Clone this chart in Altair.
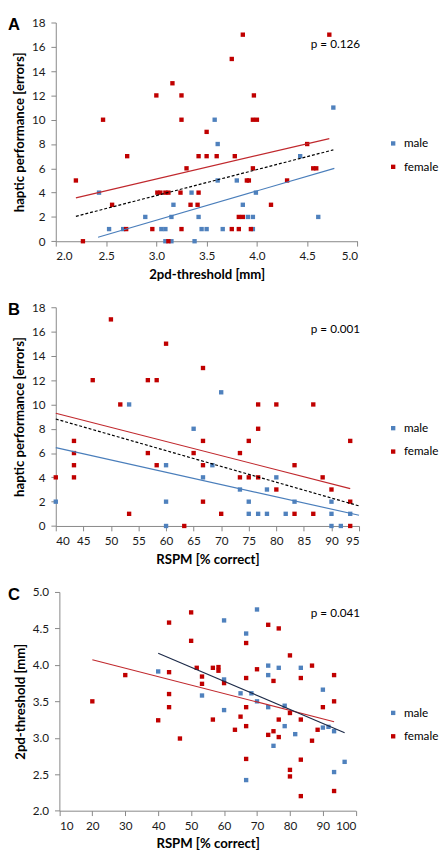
import altair as alt
import pandas as pd

# ---------------- Panel A : haptic performance vs 2pd-threshold ----------------
a_male_x = [2.43, 2.53, 2.67, 2.89, 3.05, 3.09, 3.09, 3.15, 3.15, 3.17, 3.35, 3.38, 3.42, 3.45,
            3.50, 3.58, 3.61, 3.61, 3.66, 3.80, 3.86, 3.91, 3.96, 3.96, 3.99, 4.43, 4.61, 4.76]
a_male_y = [4, 1, 1, 2, 1, 1, 0, 0, 2, 3, 4, 0, 2, 1,
            1, 10, 8, 5, 1, 5, 3, 2, 2, 1, 4, 7, 2, 11]
a_female_x = [2.20, 2.27, 2.47, 2.56, 2.70, 2.71, 2.96, 3.00, 3.01, 3.04, 3.09, 3.12, 3.12, 3.16,
              3.24, 3.25, 3.25, 3.25, 3.30, 3.34, 3.41, 3.42, 3.42, 3.50, 3.50, 3.60, 3.75, 3.75,
              3.78, 3.82, 3.82, 3.86, 3.86, 3.90, 3.92, 3.94, 3.96, 3.96, 3.97, 4.00, 4.14, 4.30,
              4.50, 4.56, 4.59, 4.72]
a_female_y = [5, 0, 10, 3, 1, 7, 1, 12, 4, 4, 4, 4, 0, 13,
              4, 12, 10, 1, 6, 3, 3, 4, 7, 7, 9, 7, 1, 15,
              7, 2, 1, 2, 17, 5, 5, 1, 6, 10, 12, 10, 3, 5,
              8, 6, 6, 17]
a_fit_female_x, a_fit_female_y = [2.20, 4.72], [3.57, 8.45]
a_fit_all_x, a_fit_all_y = [2.20, 4.76], [2.05, 7.52]
a_fit_male_x, a_fit_male_y = [2.42, 4.77], [0.33, 6.00]

# ---------------- Panel B : haptic performance vs RSPM ----------------
b_male_x = [40, 53.3, 60, 60, 60, 65, 66.7, 68.4, 70, 73.4, 75, 75, 76.7, 78.3, 78.3, 80, 81.7,
            83.3, 90, 90, 90, 91.7, 93.4]
b_male_y = [2, 10, 5, 2, 0, 8, 4, 5, 11, 3, 2, 1, 1, 3, 1, 4, 1,
            2, 2, 1, 0, 0, 1]
b_female_x = [40, 43.3, 43.3, 43.3, 43.3, 46.7, 50, 51.7, 53.3, 56.7, 56.7, 58.3, 58.3, 60, 63.3,
              65, 66.7, 66.7, 66.7, 66.7, 70, 73.4, 73.4, 75, 75, 76.7, 76.7, 76.7, 80, 80,
              83.3, 83.3, 86.7, 86.7, 88.4, 90, 93.4, 93.4, 93.4]
b_female_y = [4, 7, 6, 5, 4, 12, 17, 10, 1, 12, 6, 12, 5, 15, 0,
              6, 13, 7, 5, 2, 1, 6, 4, 7, 4, 10, 8, 4, 10, 3,
              5, 1, 10, 1, 4, 3, 7, 2, 0]
b_fit_female_x, b_fit_female_y = [40, 93.4], [9.28, 3.07]
b_fit_all_x, b_fit_all_y = [40, 95], [8.80, 1.65]
b_fit_male_x, b_fit_male_y = [40, 95], [6.45, 0.88]

# ---------------- Panel C : 2pd-threshold vs RSPM ----------------
c_male_x = [40, 53.3, 60, 60, 60, 65, 66.7, 66.7, 68.3, 70, 70, 73.4, 73.4, 73.4, 75, 76.6,
            78.4, 78.4, 81.6, 83.3, 90, 90, 91.7, 93.4, 93.4, 96.6]
c_male_y = [3.91, 3.58, 4.61, 3.80, 3.38, 3.61, 4.43, 2.42, 3.61, 4.76, 3.50, 3.99, 3.86, 3.42, 2.89, 3.96,
            3.44, 3.16, 3.05, 3.96, 3.66, 3.14, 3.15, 3.09, 2.53, 2.67]
c_female_x = [20, 30, 40, 43.3, 43.3, 43.3, 43.3, 46.6, 50, 50, 51.7, 53.3, 53.3, 56.6, 56.6, 58.3,
              58.3, 60, 63.3, 65, 66.7, 66.7, 66.7, 66.7, 66.7, 70, 73.4, 73.4, 75, 75, 76.6, 76.6,
              76.6, 80, 80, 80, 80, 83.3, 83.3, 83.3, 83.3, 86.7, 86.7, 88.4, 90, 93.4, 93.4, 93.4]
c_female_y = [3.50, 3.86, 3.24, 4.58, 3.90, 3.60, 3.42, 2.99, 4.72, 4.33, 3.96, 3.84, 3.74, 3.96, 3.25, 3.97,
              3.92, 3.75, 3.11, 3.29, 4.30, 3.82, 3.42, 3.16, 2.71, 3.94, 4.55, 3.04, 3.78, 3.09, 4.50, 3.25,
              3.01, 4.13, 3.34, 2.56, 2.47, 3.82, 3.25, 2.70, 2.20, 3.99, 2.96, 3.11, 3.42, 3.86, 3.50, 2.27]
c_fit_female_x, c_fit_female_y = [20, 93.4], [4.07, 3.22]
c_fit_male_x, c_fit_male_y = [40, 96.6], [4.16, 3.07]

BLUE = "#4F81BD"
RED = "#C00000"
RED_LINE = "#C0282D"
BLUE_LINE = "#4A7EBB"
FONT = "Lato"
AXIS_GREY = "#868686"


def points_df(mx, my, fx, fy):
    return pd.DataFrame({"x": mx + fx, "y": my + fy,
                         "sex": ["male"] * len(mx) + ["female"] * len(fx)})


def panel(points, fits, xdom, ydom, xvals, yvals, xfmt, yfmt, xtitle, ytitle,
          letter, ptext, width, height=224.3, xrange=None, yoffset=0, ptext_x=312):
    xs = dict(domain=xdom, nice=False, zero=False)
    if xrange is not None:
        xs["range"] = xrange
    xscale = alt.Scale(**xs)
    yscale = alt.Scale(domain=ydom, nice=False, zero=False)
    xaxis = alt.Axis(values=xvals, format=xfmt, title=xtitle, labelPadding=5, titlePadding=6)
    yaxis = alt.Axis(values=yvals, format=yfmt, title=ytitle, offset=yoffset,
                     labelPadding=6, titlePadding=5)

    pts = alt.Chart(points).mark_square(size=20, opacity=1).encode(
        x=alt.X("x:Q", scale=xscale, axis=xaxis),
        y=alt.Y("y:Q", scale=yscale, axis=yaxis),
        color=alt.Color("sex:N",
                        scale=alt.Scale(domain=["male", "female"], range=[BLUE, RED]),
                        legend=alt.Legend(title=None, orient="none", legendX=340, legendY=118,
                                          padding=0, symbolType="square", symbolSize=20,
                                          symbolStrokeWidth=0, labelFont=FONT, labelFontSize=12,
                                          labelColor="#000000", rowPadding=12, labelOffset=5)),
    )
    layers = [pts]
    for fx, fy, color, dash in fits:
        mk = dict(color=color, strokeWidth=1.2)
        if dash:
            mk["strokeDash"] = dash
        layers.append(
            alt.Chart(pd.DataFrame({"x": fx, "y": fy})).mark_line(**mk).encode(
                x=alt.X("x:Q", scale=xscale, axis=xaxis),
                y=alt.Y("y:Q", scale=yscale, axis=yaxis),
            )
        )
    layers.append(
        alt.Chart(pd.DataFrame({"t": [ptext]})).mark_text(
            align="right", baseline="alphabetic", font=FONT, fontSize=12, color="#000000"
        ).encode(x=alt.value(ptext_x), y=alt.value(26), text="t:N")
    )
    layers.append(
        alt.Chart(pd.DataFrame({"t": [letter]})).mark_text(
            align="left", baseline="alphabetic", font="Liberation Sans", fontSize=17,
            fontWeight="bold", color="#000000"
        ).encode(x=alt.value(-49), y=alt.value(8), text="t:N")
    )
    return alt.layer(*layers).properties(width=width, height=height)


chart_a = panel(points_df(a_male_x, a_male_y, a_female_x, a_female_y),
                [(a_fit_female_x, a_fit_female_y, RED_LINE, None),
                 (a_fit_all_x, a_fit_all_y, "#000000", [3, 2]),
                 (a_fit_male_x, a_fit_male_y, BLUE_LINE, None)],
                [2.0, 5.0], [0, 18], [2.0, 2.5, 3.0, 3.5, 4.0, 4.5, 5.0], list(range(0, 19, 2)),
                ".1f", "d", "2pd-threshold [mm]", "haptic performance [errors]",
                "A", "p = 0.126", 309.4)

chart_b = panel(points_df(b_male_x, b_male_y, b_female_x, b_female_y),
                [(b_fit_female_x, b_fit_female_y, RED_LINE, None),
                 (b_fit_all_x, b_fit_all_y, "#000000", [3, 2]),
                 (b_fit_male_x, b_fit_male_y, BLUE_LINE, None)],
                [40, 95], [0, 18], list(range(40, 96, 5)), list(range(0, 19, 2)),
                "d", "d", "RSPM [% correct]", "haptic performance [errors]",
                "B", "p = 0.001", 311)

chart_c = panel(points_df(c_male_x, c_male_y, c_female_x, c_female_y),
                [(c_fit_female_x, c_fit_female_y, RED_LINE, None),
                 (c_fit_male_x, c_fit_male_y, "#1C2A48", None)],
                [10, 100], [2.0, 5.0], list(range(10, 101, 10)), [2.0, 2.5, 3.0, 3.5, 4.0, 4.5, 5.0],
                "d", ".1f", "RSPM [% correct]", "2pd-threshold [mm]",
                "C", "p = 0.041", 307.7, xrange=[3.7, 307.7], yoffset=-3.7, ptext_x=312)

chart = alt.vconcat(chart_a, chart_b, chart_c, spacing=67, bounds="flush").resolve_scale(
    color="independent"
).properties(
    padding={"left": 0, "top": -2, "right": 0, "bottom": 0}
).configure_axis(
    domainColor=AXIS_GREY, tickColor=AXIS_GREY, tickSize=5, grid=False,
    labelFont=FONT, labelFontSize=12, labelColor="#1a1a1a",
    titleFont=FONT, titleFontSize=13.5, titleFontWeight="bold", titleColor="#000000",
).configure_view(stroke=None)

chart.save("out.html", embed_options={"renderer": "svg", "actions": False})
